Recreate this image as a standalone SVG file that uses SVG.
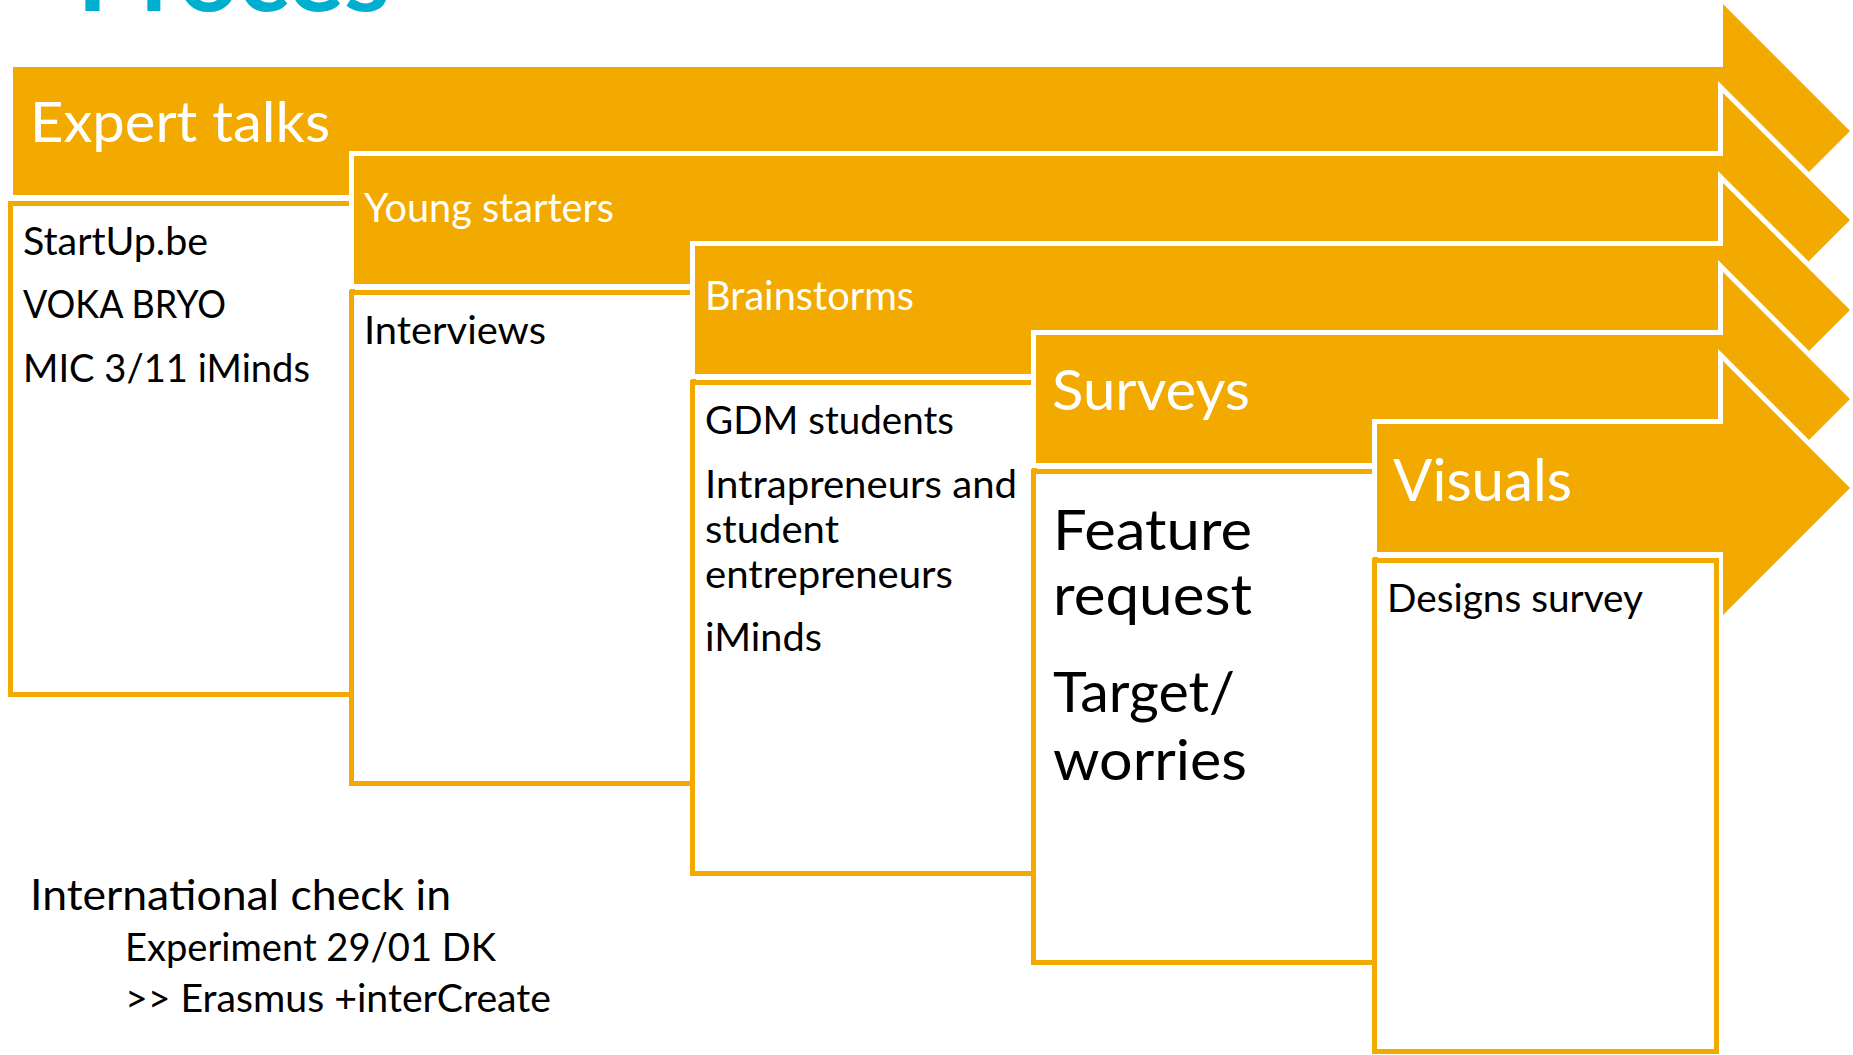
<svg xmlns="http://www.w3.org/2000/svg" width="1853" height="1055" viewBox="0 0 1853 1055">
  <style>
    .arrow { fill: #F2AA00; stroke: #FFFFFF; stroke-width: 10; paint-order: stroke; stroke-linejoin: miter; }
    .box { fill: #FFFFFF; stroke: #F2AA00; stroke-width: 5; }
    .t { font-family: Lato, "Open Sans", "Liberation Sans", sans-serif; }
    .head { fill: #FFFFFF; }
    .body { fill: #000000; }
    .title { fill: #00AECF; font-weight: 700; }
  </style>
  <rect width="1853" height="1055" fill="#FFFFFF"/>

  <!-- page title, cropped at the top edge -->
  <text class="t title" x="77" y="10.5" font-size="100" textLength="313" lengthAdjust="spacingAndGlyphs">Proces</text>

  <!-- process steps: arrow band + content box, stacked left to right -->
  <g id="step-expert-talks">
    <polygon class="arrow" points="13,67 1723,67 1723,4 1850,131 1723,258 1723,195 13,195"/>
    <rect class="box" x="10.5" y="203.5" width="342" height="491"/>
    <text class="t head" x="30" y="142" font-size="56" textLength="300" lengthAdjust="spacingAndGlyphs">Expert talks</text>
    <text class="t body" x="23" y="255" font-size="39" textLength="185" lengthAdjust="spacingAndGlyphs">StartUp.be</text>
    <text class="t body" x="23" y="318" font-size="39" textLength="203" lengthAdjust="spacingAndGlyphs">VOKA BRYO</text>
    <text class="t body" x="23" y="382" font-size="39" textLength="287" lengthAdjust="spacingAndGlyphs">MIC 3/11 iMinds</text>
  </g>

  <g id="step-young-starters">
    <polygon class="arrow" points="354,156 1723,156 1723,93 1850,220 1723,347 1723,284 354,284"/>
    <rect class="box" x="351.5" y="292.5" width="342" height="491"/>
    <text class="t head" x="364" y="222" font-size="40" textLength="250" lengthAdjust="spacingAndGlyphs">Young starters</text>
    <text class="t body" x="364" y="344" font-size="39" textLength="182" lengthAdjust="spacingAndGlyphs">Interviews</text>
  </g>

  <g id="step-brainstorms">
    <polygon class="arrow" points="695,246 1723,246 1723,183 1850,310 1723,437 1723,374 695,374"/>
    <rect class="box" x="692.5" y="382.5" width="342" height="491"/>
    <text class="t head" x="705" y="310" font-size="40" textLength="209" lengthAdjust="spacingAndGlyphs">Brainstorms</text>
    <text class="t body" x="705" y="434" font-size="39" textLength="249" lengthAdjust="spacingAndGlyphs">GDM students</text>
    <text class="t body" x="705" y="498" font-size="39" textLength="312" lengthAdjust="spacingAndGlyphs">Intrapreneurs and</text>
    <text class="t body" x="705" y="543" font-size="39" textLength="134" lengthAdjust="spacingAndGlyphs">student</text>
    <text class="t body" x="705" y="588" font-size="39" textLength="248" lengthAdjust="spacingAndGlyphs">entrepreneurs</text>
    <text class="t body" x="705" y="651" font-size="39" textLength="117" lengthAdjust="spacingAndGlyphs">iMinds</text>
  </g>

  <g id="step-surveys">
    <polygon class="arrow" points="1036,335 1723,335 1723,272 1850,399 1723,526 1723,463 1036,463"/>
    <rect class="box" x="1033.5" y="471.5" width="342" height="491"/>
    <text class="t head" x="1052" y="410" font-size="56" textLength="198" lengthAdjust="spacingAndGlyphs">Surveys</text>
    <text class="t body" x="1053" y="550" font-size="56" textLength="199" lengthAdjust="spacingAndGlyphs">Feature</text>
    <text class="t body" x="1053" y="615" font-size="56" textLength="199" lengthAdjust="spacingAndGlyphs">request</text>
    <text class="t body" x="1053" y="712" font-size="56" textLength="182" lengthAdjust="spacingAndGlyphs">Target/</text>
    <text class="t body" x="1053" y="780" font-size="56" textLength="194" lengthAdjust="spacingAndGlyphs">worries</text>
  </g>

  <g id="step-visuals">
    <polygon class="arrow" points="1377,424 1723,424 1723,361 1850,488 1723,615 1723,552 1377,552"/>
    <rect class="box" x="1374.5" y="560.5" width="342" height="491"/>
    <text class="t head" x="1393" y="501" font-size="58" textLength="179" lengthAdjust="spacingAndGlyphs">Visuals</text>
    <text class="t body" x="1387" y="612" font-size="38" textLength="256" lengthAdjust="spacingAndGlyphs">Designs survey</text>
  </g>

  <!-- connectors: none, the steps are chained by the overlapping arrows -->
  <g id="connectors"/>

  <!-- footnote -->
  <g id="note-international">
    <text class="t body" x="30" y="910" font-size="42" textLength="421" lengthAdjust="spacingAndGlyphs">International check in</text>
    <text class="t body" x="125" y="961" font-size="38" textLength="371" lengthAdjust="spacingAndGlyphs">Experiment 29/01 DK</text>
    <text class="t body" x="125" y="1012" font-size="38" textLength="426" lengthAdjust="spacingAndGlyphs">&gt;&gt; Erasmus +interCreate</text>
  </g>
</svg>
